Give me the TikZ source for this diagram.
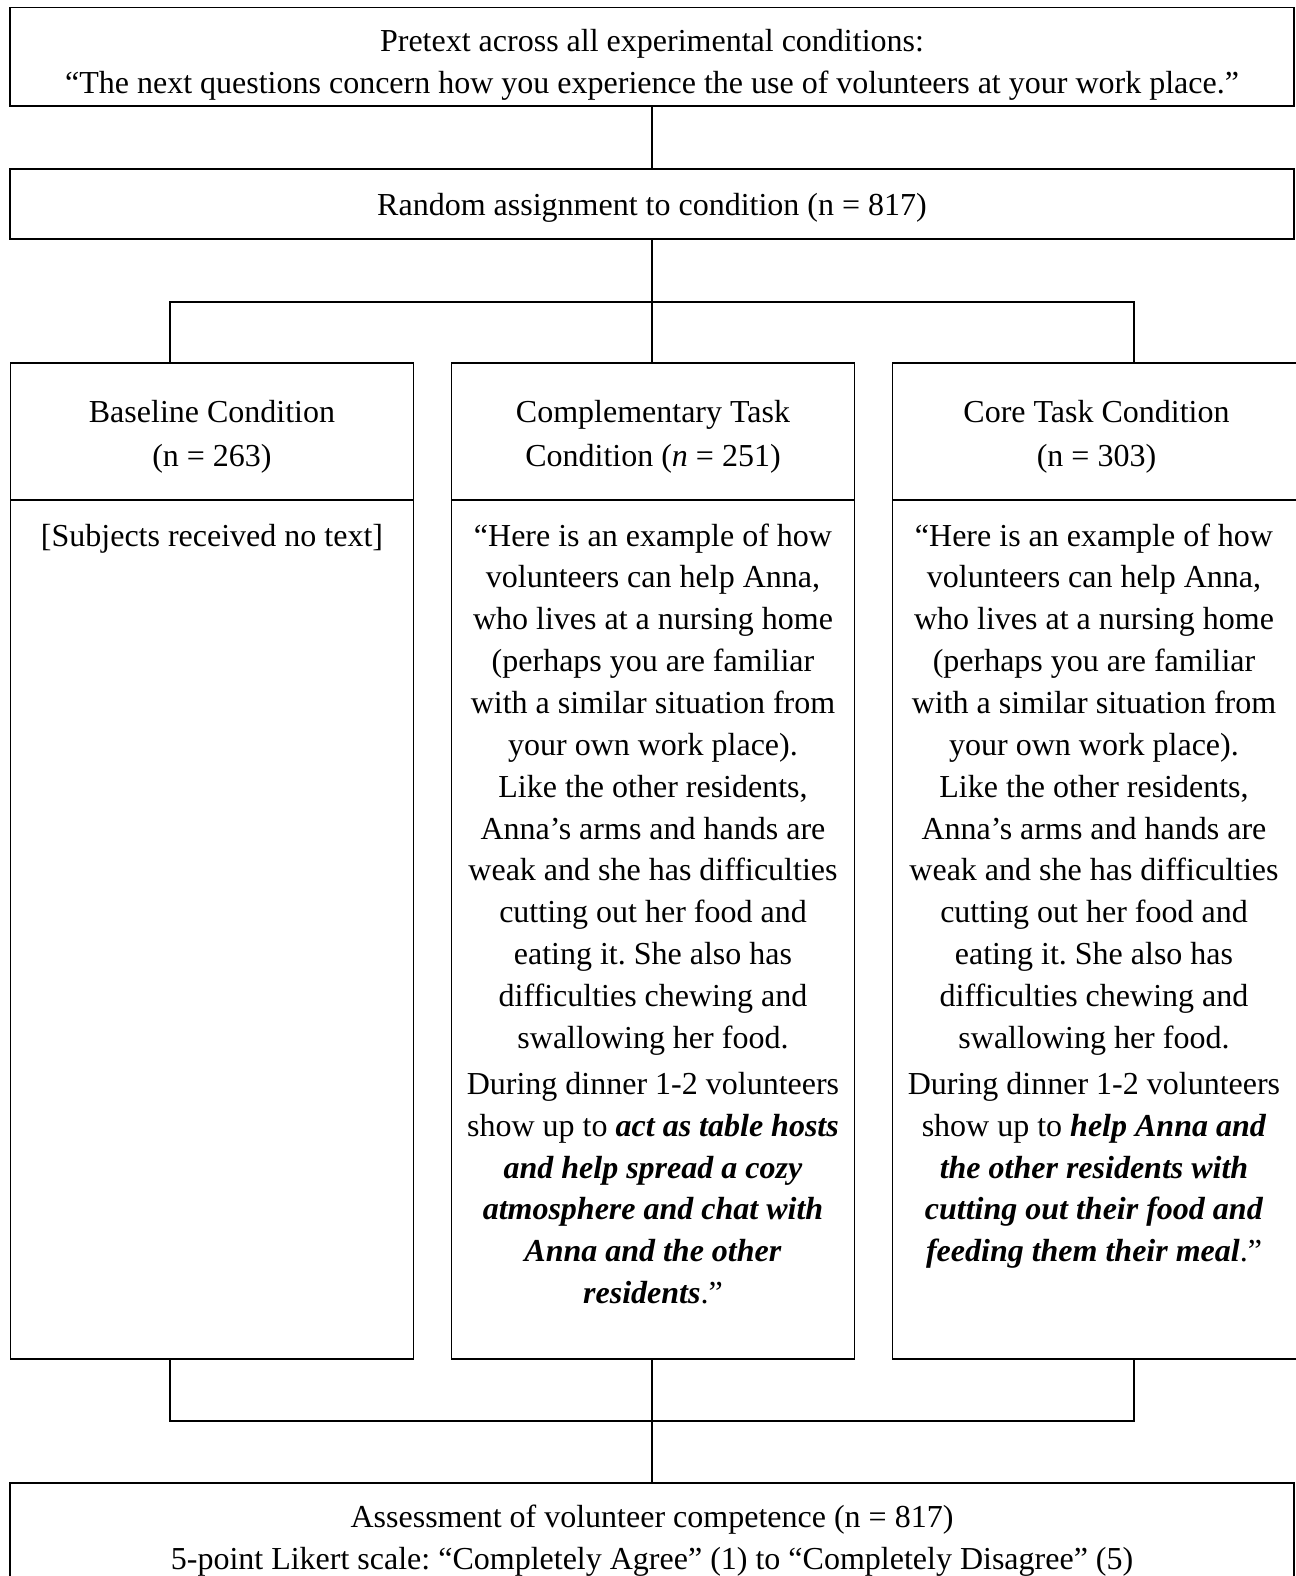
\documentclass[tikz,border=0pt]{standalone}
\usepackage{fontspec}
\setmainfont{Liberation Serif}
\usetikzlibrary{positioning}

\newcommand{\bi}[1]{\textbf{\textit{#1}}}

\tikzset{
  box/.style={draw, line width=0.7pt, inner sep=0pt, outer sep=0pt, align=flush center,
    font=\fontsize{12}{15.6}\selectfont\frenchspacing},
  wide/.style={box, minimum width=481.5pt, text width=470pt},
  head/.style={box, minimum width=151.1pt, minimum height=51.4pt, text width=145pt,
    font=\fontsize{12}{16.5}\selectfont, text height=12pt},
  body/.style={box, minimum width=151.1pt, minimum height=322.1pt},
  bodytext/.style={inner sep=0pt, text width=145pt, align=flush center,
    font=\fontsize{12}{15.7}\selectfont\frenchspacing},
  link/.style={line width=0.55pt}
}

\begin{document}
\begin{tikzpicture}[x=0.375pt, y=-0.375pt]
\useasboundingbox (0,0) rectangle (1296,1576);
\clip (0,0) rectangle (1296,1576);

% top of the design
\node[wide, minimum height=36.9pt, text height=14.2pt] (pretext) at (652,56.75)
  {Pretext across all experimental conditions:\\“The next questions concern how you experience the use of volunteers at your work place.”};
\node[wide, minimum height=26.25pt, text height=12pt, text depth=3.5pt] (assign) at (652,204)
  {Random assignment to condition (n = 817)};

% the three conditions
\node[head] (basehead) at (212,431.5) {Baseline Condition\\(n = 263)};
\node[head] (comphead) at (653,431.5) {Complementary Task\\Condition (\textit{n} = 251)};
\node[head, minimum width=153pt] (corehead) at (1096.5,431.5) {Core Task Condition\\(n = 303)};

\node[body, anchor=north] (basebody) at (basehead.south) {};
\node[body, anchor=north] (compbody) at (comphead.south) {};
\node[body, anchor=north, minimum width=153pt] (corebody) at (corehead.south) {};

\node[bodytext, anchor=base] (basetext) at (212,546) {[Subjects received no text]};
\node[bodytext, anchor=base] (comptext) at (653,546)
  {“Here is an example of how\\volunteers can help Anna,\\who lives at a nursing home\\(perhaps you are familiar\\with a similar situation from\\your own work place).\\
   Like the other residents,\\Anna’s arms and hands are\\weak and she has difficulties\\cutting out her food and\\eating it. She also has\\difficulties chewing and\\swallowing her food.\\[1.5pt]
   During dinner 1-2 volunteers\\show up to \bi{act as table hosts}\\\bi{and help spread a cozy}\\\bi{atmosphere and chat with}\\\bi{Anna and the other}\\\bi{residents}.”};
\node[bodytext, anchor=base] (coretext) at (1094,546)
  {“Here is an example of how\\volunteers can help Anna,\\who lives at a nursing home\\(perhaps you are familiar\\with a similar situation from\\your own work place).\\
   Like the other residents,\\Anna’s arms and hands are\\weak and she has difficulties\\cutting out her food and\\eating it. She also has\\difficulties chewing and\\swallowing her food.\\[1.5pt]
   During dinner 1-2 volunteers\\show up to \bi{help Anna and}\\\bi{the other residents with}\\\bi{cutting out their food and}\\\bi{feeding them their meal}.”};

% outcome
\node[wide, minimum height=39.75pt, text height=11.9pt] (assess) at (652,1536)
  {Assessment of volunteer competence (n = 817)\\5-point Likert scale: “Completely Agree” (1) to “Completely Disagree” (5)};

% connectors
\coordinate (split) at (652,302);
\coordinate (sl) at (170,302);
\coordinate (sr) at (1134,302);
\coordinate (join) at (652,1421);
\coordinate (jl) at (170,1421);
\coordinate (jr) at (1134,1421);

\draw[link] (pretext) -- (assign);
\draw[link] (assign) -- (split);
\draw[link] (sl |- basehead.north) -- (sl) -- (sr) -- (sr |- corehead.north);
\draw[link] (split) -- (split |- comphead.north);
\draw[link] (jl |- basebody.south) -- (jl) -- (jr) -- (jr |- corebody.south);
\draw[link] (join |- compbody.south) -- (join) -- (assess);

\end{tikzpicture}
\end{document}
